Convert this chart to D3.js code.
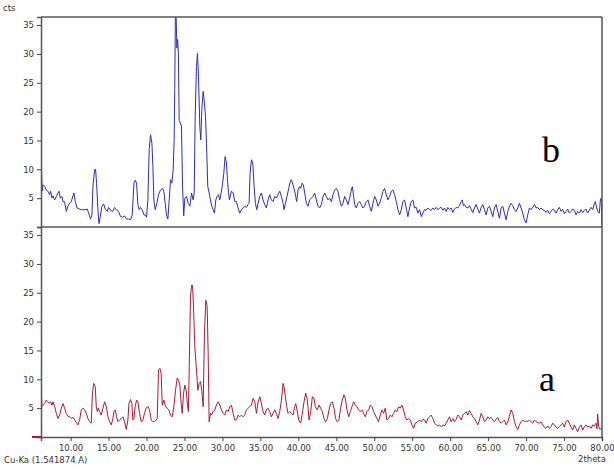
<!DOCTYPE html>
<html><head><meta charset="utf-8">
<script src="https://cdn.jsdelivr.net/npm/d3@7"></script>
<style>body{margin:0;background:#fff}svg{display:block}</style>
</head><body><div id="chart"></div>
<script>
// x-axis ticks (2theta), y ticks (cts)
const xTicks = [10,15,20,25,30,35,40,45,50,55,60,65,70,75,80];
const yTicks = [5,10,15,20,25,30,35];
const xDomain = [6.1, 80];
const yDomain = [0, 36.4];
const panelLabels = ["b", "a"];

// Series b (top, blue): [2theta, cts]
const seriesB = [[6.1,10.5],[6.15,11.0],[6.25,6.2],[6.36,7.3],[6.58,7.1],[6.8,6.4],[7.02,6.2],[7.24,5.6],[7.37,6.2],[7.55,5.0],[7.68,5.4],[7.9,4.7],[8.12,5.3],[8.34,5.9],[8.47,6.2],[8.64,5.0],[8.86,5.3],[8.99,4.4],[9.21,4.4],[9.43,2.7],[9.65,3.6],[9.87,4.1],[10.09,4.4],[10.31,5.4],[10.44,5.9],[10.62,4.4],[10.84,3.3],[11.19,3.1],[11.41,3.0],[11.85,3.0],[12.2,3.1],[12.37,2.4],[12.63,1.4],[12.81,2.1],[12.94,7.0],[13.16,9.9],[13.29,10.0],[13.42,7.6],[13.6,3.0],[13.73,0.6],[13.91,1.8],[14.13,3.6],[14.35,4.0],[14.57,3.1],[14.83,2.7],[15.0,3.4],[15.27,2.9],[15.57,2.7],[15.79,3.4],[16.01,3.0],[16.32,2.7],[16.58,1.8],[16.89,1.7],[17.11,1.9],[17.33,1.4],[17.63,1.4],[17.9,1.25],[18.12,2.1],[18.34,7.6],[18.51,8.1],[18.69,7.6],[18.86,3.9],[19.04,3.0],[19.21,3.4],[19.43,3.0],[19.65,2.1],[19.83,2.1],[20.0,1.7],[20.18,4.7],[20.35,13.4],[20.53,16.0],[20.71,14.5],[20.84,10.5],[20.97,4.7],[21.14,3.0],[21.36,4.1],[21.58,5.6],[21.84,6.4],[22.11,6.7],[22.28,6.2],[22.46,4.1],[22.63,2.1],[22.81,1.4],[22.99,4.7],[23.16,8.2],[23.34,7.6],[23.51,9.9],[23.64,15],[23.72,24],[23.8,36.3],[23.9,36.3],[24.0,31],[24.1,32.5],[24.2,30],[24.3,18.5],[24.45,18.0],[24.6,17.5],[24.75,7.0],[24.9,1.9],[25.05,5.0],[25.27,5.3],[25.49,4.1],[25.71,3.6],[25.93,5.9],[26.14,4.7],[26.28,5.9],[26.41,19.2],[26.58,27.8],[26.71,30.1],[26.85,26.1],[27.02,17.4],[27.15,15.1],[27.28,20.3],[27.46,23.5],[27.59,22.0],[27.77,19.2],[27.9,14.5],[28.07,7.0],[28.25,5.9],[28.42,4.7],[28.6,3.6],[28.78,3.0],[28.95,2.4],[29.13,4.7],[29.3,5.3],[29.48,5.6],[29.65,4.7],[29.83,5.9],[30.0,7.3],[30.18,9.3],[30.35,12.2],[30.53,11.1],[30.66,8.2],[30.8,6.0],[30.92,4.7],[31.19,6.2],[31.41,5.9],[31.63,4.4],[31.85,4.4],[32.06,3.3],[32.28,2.4],[32.5,3.0],[32.72,3.3],[32.94,3.6],[33.16,3.4],[33.38,3.9],[33.51,4.1],[33.64,9.3],[33.82,11.65],[34.0,11.1],[34.17,7.0],[34.35,4.1],[34.52,3.0],[34.7,4.1],[34.92,5.3],[35.13,5.9],[35.35,4.7],[35.57,3.9],[35.79,3.3],[36.01,4.7],[36.23,5.6],[36.45,4.7],[36.67,4.4],[36.89,5.3],[37.11,5.0],[37.33,5.6],[37.55,6.2],[37.77,5.3],[37.99,4.1],[38.12,3.0],[38.29,4.1],[38.51,5.3],[38.73,6.7],[38.95,7.9],[39.08,8.2],[39.3,7.3],[39.52,6.2],[39.65,5.3],[39.78,4.4],[39.96,6.4],[40.18,7.0],[40.31,6.7],[40.49,7.6],[40.66,7.3],[40.84,5.9],[41.06,4.1],[41.27,3.6],[41.49,4.7],[41.71,5.0],[41.93,5.3],[42.15,5.9],[42.37,4.7],[42.59,3.6],[42.81,3.3],[43.03,3.9],[43.25,5.3],[43.47,5.9],[43.69,5.3],[43.91,4.7],[44.13,5.0],[44.35,4.4],[44.56,5.6],[44.78,6.4],[45.0,6.7],[45.22,6.2],[45.44,4.7],[45.66,3.6],[45.88,4.1],[46.1,5.3],[46.32,4.7],[46.54,3.9],[46.76,5.0],[46.98,6.4],[47.11,7.0],[47.28,5.3],[47.42,3.9],[47.63,3.3],[47.85,4.1],[48.07,4.4],[48.29,3.9],[48.51,3.3],[48.73,3.6],[48.95,4.4],[49.17,4.7],[49.39,3.6],[49.61,2.7],[49.83,4.1],[50.05,5.3],[50.27,4.7],[50.49,3.6],[50.7,4.1],[50.92,5.0],[51.14,6.2],[51.36,6.7],[51.58,5.6],[51.8,4.7],[52.02,5.3],[52.24,6.2],[52.46,6.4],[52.68,5.6],[52.9,4.4],[53.12,3.0],[53.34,2.1],[53.56,3.0],[53.77,4.4],[53.99,4.7],[54.21,3.3],[54.43,1.8],[54.65,3.3],[54.87,4.4],[55.09,4.7],[55.31,3.3],[55.53,3.4],[55.75,2.4],[55.97,3.0],[56.19,1.8],[56.4,2.4],[56.62,3.0],[56.84,2.9],[57.06,3.3],[57.28,3.0],[57.5,2.9],[57.72,3.3],[57.94,3.0],[58.16,3.4],[58.38,3.0],[58.6,3.3],[58.82,3.4],[59.04,2.9],[59.26,3.3],[59.47,2.7],[59.69,3.4],[59.91,3.0],[60.13,3.3],[60.35,2.5],[60.57,3.1],[60.79,3.4],[61.01,3.3],[61.23,3.7],[61.45,4.4],[61.58,4.7],[61.76,3.7],[61.89,3.9],[62.11,3.4],[62.33,3.3],[62.54,3.7],[62.76,3.1],[62.98,2.5],[63.2,3.3],[63.42,3.9],[63.64,3.1],[63.86,2.4],[64.08,3.4],[64.3,3.9],[64.52,3.0],[64.74,2.1],[64.96,3.3],[65.18,3.6],[65.4,2.7],[65.62,1.8],[65.83,3.3],[66.05,3.9],[66.27,2.7],[66.49,1.5],[66.71,3.3],[66.93,3.6],[67.15,2.4],[67.37,1.25],[67.59,2.7],[67.81,3.6],[68.03,4.1],[68.25,3.7],[68.47,3.0],[68.69,2.7],[68.9,3.3],[69.12,4.1],[69.34,3.3],[69.56,2.4],[69.78,1.25],[70.0,0.7],[70.22,2.1],[70.44,3.3],[70.66,3.0],[70.88,3.4],[71.1,3.9],[71.32,3.3],[71.54,3.4],[71.75,3.0],[71.97,3.3],[72.19,3.0],[72.41,2.9],[72.63,2.5],[72.85,2.9],[73.07,2.3],[73.29,2.7],[73.51,3.1],[73.73,2.9],[73.95,2.4],[74.17,3.0],[74.39,3.4],[74.61,2.7],[74.82,3.1],[75.04,2.3],[75.26,2.7],[75.48,3.1],[75.7,2.4],[75.92,2.7],[76.14,3.1],[76.36,2.9],[76.58,2.1],[76.8,2.7],[77.02,2.4],[77.24,3.0],[77.46,2.5],[77.68,2.9],[77.89,3.1],[78.11,2.4],[78.33,2.9],[78.55,3.4],[78.77,3.0],[78.99,4.1],[79.12,4.4],[79.3,3.3],[79.43,2.7],[79.65,2.4],[79.78,4.7],[79.9,5.0],[80.0,0.3]];

// Series a (bottom, red): [2theta, cts]
const seriesA = [[6.1,10.0],[6.13,8.1],[6.23,5.3],[6.36,5.5],[6.58,5.8],[6.8,6.4],[7.02,6.1],[7.24,5.8],[7.37,6.1],[7.55,5.5],[7.68,6.1],[7.9,5.3],[8.12,4.1],[8.34,3.2],[8.56,3.8],[8.78,5.0],[8.99,5.8],[9.21,5.0],[9.43,4.1],[9.65,3.6],[9.87,3.5],[10.09,3.2],[10.31,3.4],[10.53,2.95],[10.75,2.5],[10.97,2.1],[11.19,3.0],[11.41,4.7],[11.63,5.0],[11.85,4.7],[12.07,4.1],[12.28,3.2],[12.5,2.65],[12.72,2.4],[12.85,7.0],[13.03,9.3],[13.25,8.7],[13.38,5.3],[13.51,4.4],[13.64,5.0],[13.82,4.4],[14.04,3.8],[14.26,5.0],[14.48,6.1],[14.7,5.3],[14.92,3.5],[15.14,2.65],[15.36,2.1],[15.57,3.2],[15.71,4.4],[15.88,4.7],[16.06,3.5],[16.23,2.65],[16.45,2.95],[16.67,3.2],[16.89,3.5],[17.11,2.65],[17.33,1.3],[17.55,2.95],[17.68,5.8],[17.9,6.5],[18.07,5.8],[18.2,2.95],[18.34,3.2],[18.51,5.3],[18.69,6.4],[18.86,6.1],[19.08,4.1],[19.3,2.65],[19.52,2.95],[19.74,4.1],[19.96,5.0],[20.18,5.3],[20.4,4.7],[20.62,2.95],[20.84,2.65],[21.06,2.65],[21.28,2.95],[21.41,3.2],[21.58,11.6],[21.76,11.9],[21.93,11.0],[22.07,5.5],[22.28,6.4],[22.5,5.3],[22.72,5.0],[22.94,4.7],[23.16,3.8],[23.38,3.5],[23.6,5.3],[23.82,8.1],[24.04,10.2],[24.21,9.9],[24.39,9.0],[24.55,6.0],[24.7,4.1],[24.88,7.6],[25.05,9.0],[25.22,8.1],[25.4,5.5],[25.52,4.4],[25.62,11.6],[25.79,24.3],[25.93,26.3],[26.06,26.3],[26.19,22.6],[26.36,15.65],[26.58,11.6],[26.76,8.1],[26.93,9.3],[27.11,9.6],[27.28,8.1],[27.46,5.25],[27.63,18.0],[27.81,23.7],[27.99,22.6],[28.12,14.5],[28.25,2.65],[28.43,4.1],[28.56,3.8],[28.78,4.4],[29.0,4.7],[29.21,5.55],[29.43,6.1],[29.65,5.55],[29.87,4.7],[30.09,4.1],[30.31,3.8],[30.53,4.7],[30.75,4.4],[30.97,5.25],[31.19,5.5],[31.41,4.1],[31.63,2.95],[31.85,2.95],[32.06,3.8],[32.28,3.5],[32.5,3.8],[32.72,3.5],[32.94,3.8],[33.16,4.7],[33.38,5.0],[33.6,5.25],[33.82,5.55],[34.04,6.7],[34.26,6.1],[34.48,4.1],[34.7,6.1],[34.92,7.0],[35.13,5.8],[35.35,4.4],[35.57,3.8],[35.79,4.7],[36.01,5.0],[36.23,4.4],[36.45,3.5],[36.67,4.1],[36.89,4.7],[37.11,4.1],[37.33,3.2],[37.55,4.4],[37.77,6.4],[37.99,9.3],[38.12,8.7],[38.29,7.0],[38.47,5.3],[38.64,4.1],[38.86,4.4],[39.08,4.1],[39.3,3.8],[39.52,5.25],[39.65,5.8],[39.83,4.7],[40.05,2.95],[40.31,2.4],[40.49,3.8],[40.75,6.1],[40.97,7.6],[41.19,6.4],[41.41,2.95],[41.63,4.4],[41.85,7.0],[42.06,6.7],[42.24,5.25],[42.5,4.7],[42.72,5.55],[42.94,5.0],[43.16,4.4],[43.38,3.2],[43.6,2.65],[43.82,3.2],[44.04,4.7],[44.26,5.8],[44.48,6.1],[44.7,5.0],[44.91,3.2],[45.13,2.65],[45.35,2.95],[45.57,5.0],[45.79,6.4],[46.01,7.3],[46.19,6.7],[46.41,4.7],[46.63,3.5],[46.85,4.4],[47.06,5.25],[47.28,6.1],[47.5,5.55],[47.72,5.25],[47.94,4.7],[48.16,4.4],[48.38,4.7],[48.6,4.1],[48.82,3.5],[49.04,4.4],[49.26,4.7],[49.48,5.55],[49.7,5.25],[49.92,4.4],[50.13,3.8],[50.35,3.2],[50.57,2.65],[50.79,3.8],[51.01,4.7],[51.23,4.1],[51.45,5.0],[51.67,2.95],[51.89,3.2],[52.11,3.8],[52.33,3.5],[52.55,4.1],[52.77,4.7],[52.99,4.4],[53.2,5.25],[53.42,5.0],[53.64,5.55],[53.86,4.7],[54.08,3.5],[54.3,2.95],[54.52,3.2],[54.74,2.95],[54.96,2.1],[55.18,1.5],[55.4,2.4],[55.75,2.65],[55.97,2.95],[56.19,2.65],[56.4,3.06],[56.62,2.95],[56.84,2.4],[57.06,3.2],[57.28,3.5],[57.5,3.8],[57.72,3.2],[57.94,2.4],[58.16,2.1],[58.38,1.9],[58.6,2.1],[58.82,1.8],[59.04,2.1],[59.26,1.9],[59.47,2.4],[59.69,2.95],[59.91,3.5],[60.13,2.65],[60.35,3.2],[60.57,2.65],[60.79,3.06],[61.01,3.8],[61.23,3.5],[61.45,2.95],[61.67,3.8],[61.89,4.1],[62.11,4.4],[62.33,3.8],[62.54,4.6],[62.76,4.1],[62.98,3.5],[63.2,3.2],[63.42,2.65],[63.64,2.1],[63.86,2.95],[64.08,4.1],[64.3,3.5],[64.52,2.65],[64.74,2.95],[64.96,3.5],[65.18,3.2],[65.4,3.4],[65.62,2.95],[65.83,2.65],[66.05,3.06],[66.27,3.4],[66.49,2.65],[66.71,2.4],[66.93,2.65],[67.15,2.95],[67.37,2.1],[67.59,2.65],[67.81,3.6],[68.03,4.7],[68.25,4.1],[68.47,2.65],[68.69,1.8],[68.9,1.3],[69.12,2.1],[69.34,2.65],[69.56,2.95],[69.78,2.65],[70.0,2.8],[70.22,2.65],[70.44,2.95],[70.66,2.65],[70.88,2.4],[71.1,2.95],[71.32,2.65],[71.54,2.5],[71.75,2.4],[71.97,2.65],[72.19,2.1],[72.41,1.7],[72.63,1.5],[72.85,1.9],[73.07,1.5],[73.29,1.8],[73.51,2.4],[73.73,2.1],[73.95,1.7],[74.17,1.5],[74.39,1.8],[74.61,2.1],[74.82,2.4],[75.04,1.7],[75.26,2.65],[75.48,2.95],[75.7,2.4],[75.92,1.7],[76.14,1.2],[76.36,2.1],[76.58,1.5],[76.8,0.9],[77.02,1.7],[77.24,2.1],[77.46,1.2],[77.68,1.8],[77.89,2.1],[78.11,1.7],[78.33,1.9],[78.55,1.5],[78.77,2.1],[78.99,1.9],[79.21,2.4],[79.34,1.4],[79.43,4.0],[79.56,1.8],[79.74,1.3],[80.0,1.6]];

const W = 614, H = 470;
const left = 41, right = 602;
const panels = [
  {top: 17, bottom: 227, data: seriesB, color: "#2e2eb4", label: panelLabels[0], lx: 542, ly: 162},
  {top: 227, bottom: 437, data: seriesA, color: "#a81c36", label: panelLabels[1], lx: 539, ly: 391}
];

const svg = d3.select("#chart").append("svg").attr("width", W).attr("height", H)
  .style("font-family", "Tahoma, 'DejaVu Sans', Arial, sans-serif");

const x = d3.scaleLinear().domain(xDomain).range([left, right]);

panels.forEach((p, i) => {
  const y = d3.scaleLinear().domain(yDomain).range([p.bottom, p.top]);
  const clipId = "clip" + i;
  svg.append("clipPath").attr("id", clipId).append("rect")
    .attr("x", left).attr("y", p.top).attr("width", right - left).attr("height", p.bottom - p.top);

  const line = d3.line().x(d => x(d[0])).y(d => y(d[1]));
  svg.append("path").datum(p.data)
    .attr("clip-path", `url(#${clipId})`)
    .attr("fill", "none").attr("stroke", p.color).attr("stroke-width", 1)
    .attr("d", line);

  // y axis
  const ya = svg.append("g").attr("transform", `translate(${left},0)`)
    .call(d3.axisLeft(y).tickValues(yTicks).tickSize(4).tickPadding(3).tickFormat(d3.format("d")));
  ya.select(".domain").attr("stroke", "#555").attr("stroke-width", 1.5);
  ya.selectAll(".tick line").attr("stroke", "#444");
  ya.selectAll(".tick text").attr("fill", "#333").style("font-size", "8.5px")
    .style("font-family", "'DejaVu Sans', sans-serif");

  // top frame line
  svg.append("line").attr("x1", left).attr("x2", right).attr("y1", p.top).attr("y2", p.top)
    .attr("stroke", "#555").attr("stroke-width", 1.5);

  svg.append("text").attr("x", p.lx).attr("y", p.ly).text(p.label)
    .style("font-family", "'Liberation Serif', 'Times New Roman', serif")
    .style("font-size", "36px").attr("fill", "#000");

  if (i === 1) {
    const y0 = y(0);
    const xa = svg.append("g").attr("transform", `translate(0,${p.bottom})`)
      .call(d3.axisBottom(x).tickValues(xTicks).tickSize(4).tickPadding(4).tickFormat(d3.format(".2f")));
    xa.select(".domain").attr("stroke", "#555").attr("stroke-width", 1.5);
    xa.selectAll(".tick line").attr("stroke", "#444");
    xa.selectAll(".tick text").attr("fill", "#333").style("font-size", "8.5px")
      .style("font-family", "'DejaVu Sans', sans-serif");
    svg.append("line").attr("x1", 32).attr("x2", left).attr("y1", y0).attr("y2", y0)
      .attr("stroke", p.color).attr("stroke-width", 2);
  }
});

// right frame line
svg.append("line").attr("x1", right).attr("x2", right).attr("y1", 17).attr("y2", 437)
  .attr("stroke", "#555").attr("stroke-width", 1.5);

svg.append("text").attr("x", 3).attr("y", 11).text("cts").attr("fill", "#333")
  .style("font-size", "8.5px").style("font-family", "'DejaVu Sans', sans-serif");
svg.append("text").attr("x", 4).attr("y", 463).text("Cu-Ka (1.541874 A)").attr("fill", "#333")
  .style("font-size", "8.5px").style("font-family", "'DejaVu Sans', sans-serif");
svg.append("text").attr("x", 578).attr("y", 462).text("2theta").attr("fill", "#333")
  .style("font-size", "8.5px").style("font-family", "'DejaVu Sans', sans-serif");
</script>
</body></html>
